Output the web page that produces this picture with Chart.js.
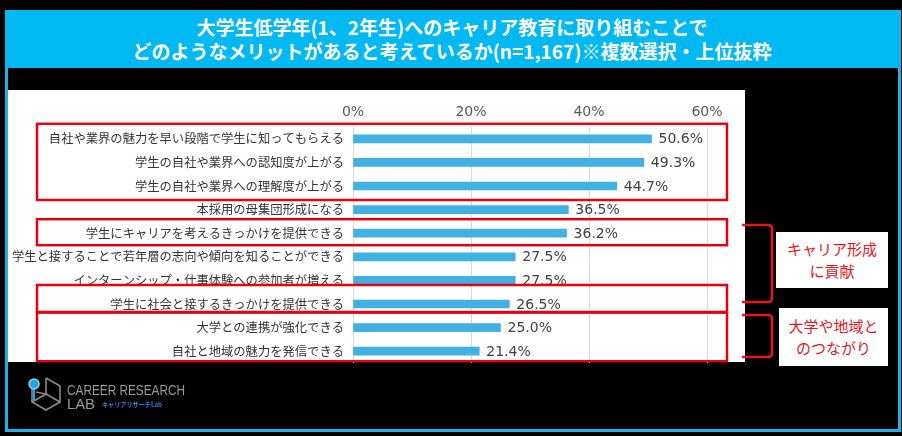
<!DOCTYPE html>
<html lang="ja">
<head>
<meta charset="utf-8">
<script src="https://cdn.jsdelivr.net/npm/chart.js@4"></script>
<style>
  html, body { margin: 0; padding: 0; background: #000; }
  #page { position: relative; width: 902px; height: 436px; overflow: hidden; background: #000; }
  #frame { position: absolute; left: 5px; top: 10px; width: 890px; height: 416px; border: 3px solid #1ab2e8; }
  #title { position: absolute; left: 5px; top: 10px; width: 894px; height: 58px; background: #00b9f2;
           color: #fff; font-family: "Noto Sans CJK JP", sans-serif; font-weight: bold; font-size: 19px;
           line-height: 24px; text-align: center; padding-top: 5px; box-sizing: border-box; }
  #chart { position: absolute; left: 0; top: 0; }
  .note { position: absolute; background: #fff; color: #e8161c; font-family: "Noto Sans CJK JP", sans-serif;
          font-size: 15px; line-height: 22px; text-align: center; box-sizing: border-box; }
  #overlay { position: absolute; left: 0; top: 0; }
</style>
</head>
<body>
<div id="page">
  <div id="frame"></div>
  <div id="title">大学生低学年(1、2年生)へのキャリア教育に取り組むことで<br>どのようなメリットがあると考えているか(n=1,167)※複数選択・上位抜粋</div>
  <canvas id="chart" width="902" height="436"></canvas>
  <svg id="overlay" width="902" height="436">
    <!-- 右側の括弧 -->
    <path d="M742 225 L768 225 Q772 225 772 229 L772 298 Q772 302 768 302 L742 302" fill="none" stroke="#e8161c" stroke-width="2.5"/>
    <path d="M742 315 L768 315 Q772 315 772 319 L772 353 Q772 357 768 357 L742 357" fill="none" stroke="#e8161c" stroke-width="2.5"/>
    <!-- ロゴ -->
    <g stroke="#8a8a8a" stroke-width="1.6" fill="none">
      <path d="M46 378 L60 386 L60 402 L46 410 L32 402 L32 389"/>
      <path d="M46 378 L46 394 L60 402"/>
      <path d="M36 392 L46 394 L32 402"/>
    </g>
    <line x1="34" y1="387" x2="34" y2="400" stroke="#22a8e0" stroke-width="2"/>
    <circle cx="34" cy="384" r="5" fill="#22a8e0" stroke="#8fd6f2" stroke-width="1.5"/>
    <text x="67" y="395" font-family="Liberation Sans, sans-serif" font-size="14" fill="#9a9a9a" textLength="118" lengthAdjust="spacingAndGlyphs">CAREER RESEARCH</text>
    <text x="67" y="409" font-family="Liberation Sans, sans-serif" font-size="14" fill="#9a9a9a" textLength="28" lengthAdjust="spacingAndGlyphs">LAB</text>
    <text x="102" y="407" font-family="Noto Sans CJK JP, sans-serif" font-size="7" font-weight="bold" fill="#2a7fd0" textLength="60" lengthAdjust="spacingAndGlyphs">キャリアリサーチLab</text>
  </svg>
  <div class="note" style="left:776px; top:232px; width:112px; height:56px; padding-top:6px;">キャリア形成<br>に貢献</div>
  <div class="note" style="left:779px; top:308px; width:109px; height:58px; padding-top:7px;">大学や地域と<br>のつながり</div>
</div>

<script>
// データ
const categories = [
  "自社や業界の魅力を早い段階で学生に知ってもらえる",
  "学生の自社や業界への認知度が上がる",
  "学生の自社や業界への理解度が上がる",
  "本採用の母集団形成になる",
  "学生にキャリアを考えるきっかけを提供できる",
  "学生と接することで若年層の志向や傾向を知ることができる",
  "インターンシップ・仕事体験への参加者が増える",
  "学生に社会と接するきっかけを提供できる",
  "大学との連携が強化できる",
  "自社と地域の魅力を発信できる"
];
const values = [50.6, 49.3, 44.7, 36.5, 36.2, 27.5, 27.5, 26.5, 25.0, 21.4];
const tickValues = [0, 20, 40, 60];
// 赤枠で囲む項目 (先頭と末尾のインデックス)
const highlightGroups = [[0, 2], [4, 4], [7, 7], [8, 9]];

// 白い背景
const backgroundPlugin = {
  id: "whiteBox",
  beforeDraw(chart) {
    const ctx = chart.ctx;
    ctx.save();
    ctx.fillStyle = "#ffffff";
    ctx.fillRect(8, 90, 737, 272);
    ctx.restore();
  }
};

// 数値ラベル
const valueLabelPlugin = {
  id: "valueLabels",
  afterDatasetsDraw(chart) {
    const ctx = chart.ctx;
    const meta = chart.getDatasetMeta(0);
    ctx.save();
    ctx.font = "14px 'DejaVu Sans', sans-serif";
    ctx.fillStyle = "#404040";
    ctx.textAlign = "left";
    ctx.textBaseline = "middle";
    meta.data.forEach((bar, i) => {
      ctx.fillText(values[i].toFixed(1) + "%", bar.x + 7, bar.y + 1);
    });
    ctx.restore();
  }
};

// 赤枠
const groupBoxPlugin = {
  id: "groupBoxes",
  afterDraw(chart) {
    const ctx = chart.ctx;
    const y = chart.scales.y;
    const pads = [[15, 14], [14, 12], [19, 8], [15, 10]];
    ctx.save();
    ctx.strokeStyle = "#e60012";
    ctx.lineWidth = 2.5;
    highlightGroups.forEach((g, k) => {
      const top = y.getPixelForValue(g[0]) - pads[k][0];
      const bottom = y.getPixelForValue(g[1]) + pads[k][1];
      ctx.strokeRect(37, top, 690, bottom - top);
    });
    ctx.restore();
  }
};

new Chart(document.getElementById("chart"), {
  type: "bar",
  data: {
    labels: categories,
    datasets: [{
      data: values,
      backgroundColor: "#41b1e3",
      barThickness: 8
    }]
  },
  options: {
    indexAxis: "y",
    responsive: false,
    animation: false,
    layout: { padding: { left: 8, top: 90, right: 195, bottom: 73 } },
    plugins: {
      legend: { display: false },
      tooltip: { enabled: false }
    },
    scales: {
      x: {
        position: "top",
        min: 0,
        max: 60,
        afterBuildTicks(scale) {
          scale.ticks = tickValues.map(v => ({ value: v }));
        },
        afterFit(scale) { scale.height = 37; },
        grid: { color: "#d9d9d9", drawTicks: false },
        border: { display: false },
        ticks: {
          padding: 6,
          color: "#595959",
          font: { family: "'DejaVu Sans', sans-serif", size: 14 },
          callback: v => v + "%"
        }
      },
      y: {
        afterFit(scale) { scale.width = 345; },
        grid: { display: false, drawTicks: false },
        border: { display: false },
        ticks: {
          padding: 9,
          color: "#333333",
          font: { family: "'Noto Sans CJK JP', sans-serif", size: 12.3 }
        }
      }
    }
  },
  plugins: [backgroundPlugin, valueLabelPlugin, groupBoxPlugin]
});
</script>
</body>
</html>
